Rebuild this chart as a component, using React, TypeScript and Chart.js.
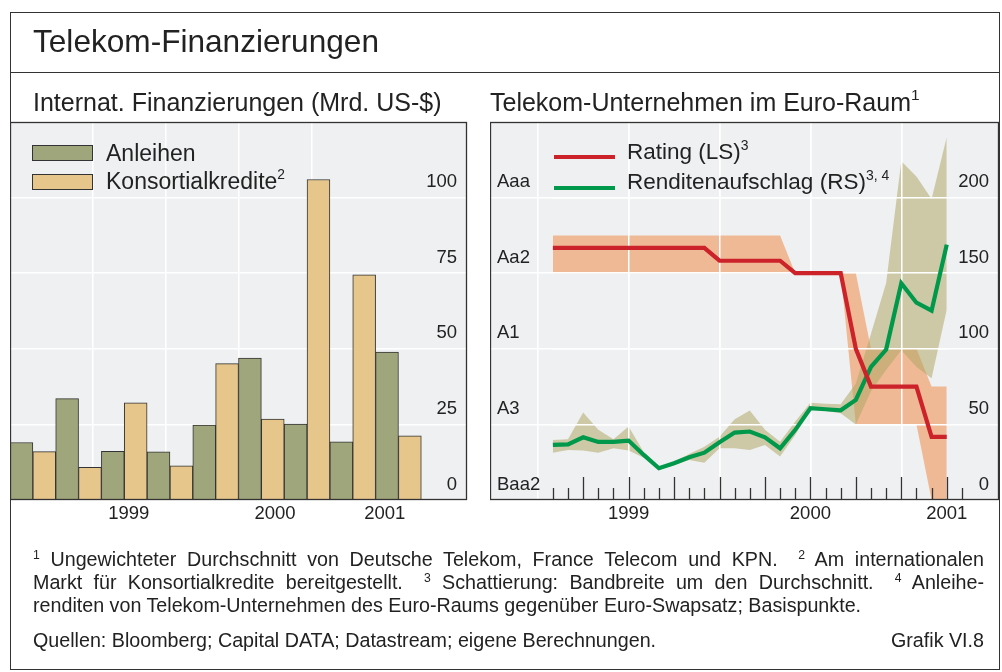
import React, { useEffect, useRef } from 'react';
import { Chart, registerables } from 'chart.js';

Chart.register(...registerables);

const FONT = '"Liberation Sans", Arial, Helvetica, sans-serif';
const TEXT = '#222222';
const PLOT_BG = '#EFF0F2';
const FRAME = '#333333';

// ---------- Left chart: Internat. Finanzierungen (Mrd. US-$), quarterly ----------
const quarters = ['1998-Q3', '1998-Q4', '1999-Q1', '1999-Q2', '1999-Q3', '1999-Q4', '2000-Q1', '2000-Q2', '2000-Q3', '2000-Q4'];
const anleihen = [19.0, 33.5, 16.1, 15.9, 24.8, 46.9, 25.1, 19.2, 48.9, null];
const konsortialkredite = [16.0, 10.8, 32.1, 11.3, 45.1, 26.8, 106.0, 74.5, 21.2, null];
const leftValueTicks = [0, 25, 50, 75, 100, 125];
const leftValueLabels = ['0', '25', '50', '75', '100', ''];
const leftGridMonths = ['1999-01', '1999-07', '2000-01', '2000-07'];

// ---------- Right chart: Telekom-Unternehmen im Euro-Raum, monthly ----------
const months = [
  '1998-08', '1998-09', '1998-10', '1998-11', '1998-12',
  '1999-01', '1999-02', '1999-03', '1999-04', '1999-05', '1999-06',
  '1999-07', '1999-08', '1999-09', '1999-10', '1999-11', '1999-12',
  '2000-01', '2000-02', '2000-03', '2000-04', '2000-05', '2000-06',
  '2000-07', '2000-08', '2000-09', '2000-10',
];
// Rating in notches (Aaa = 1, Aa1 = 2, Aa2 = 3, Aa3 = 4, A1 = 5, A2 = 6, A3 = 7, Baa1 = 8, Baa2 = 9)
const ratingAvg = [
  2.33, 2.33, 2.33, 2.33, 2.33,
  2.33, 2.33, 2.33, 2.33, 2.33, 2.33,
  2.67, 2.67, 2.67, 2.67, 2.67, 3.0,
  3.0, 3.0, 3.0, 5.0, 6.0, 6.0,
  6.0, 6.0, 7.33, 7.33,
];
const ratingBest = [
  2, 2, 2, 2, 2,
  2, 2, 2, 2, 2, 2,
  2, 2, 2, 2, 2, 3,
  3, 3, 3, 3, 5, 5,
  5, 5, 6, 6,
];
const ratingWorst = [
  3, 3, 3, 3, 3,
  3, 3, 3, 3, 3, 3,
  3, 3, 3, 3, 3, 3,
  3, 3, 3, 7, 7, 7,
  7, 7, 9, 9,
];
// Renditenaufschlag in Basispunkten
const spreadAvg = [
  36.4, 36.8, 41.5, 38.4, 38.4,
  39.3, 29.8, 21.0, 24.3, 28.3, 31.3,
  38.2, 44.6, 45.3, 41.5, 34.2, 46.4,
  60.7, 60.0, 59.3, 66.2, 88.0, 99.5,
  143.3, 130.5, 125.2, 168.9,
];
const spreadHigh = [
  39.7, 40.1, 57.8, 46.4, 40.1,
  48.6, 31.5, 22.0, 25.5, 30.5, 35.3,
  41.9, 53.4, 59.2, 46.4, 38.6, 51.9,
  64.4, 63.6, 63.3, 77.0, 110.0, 143.5,
  224.0, 214.0, 199.0, 240.0,
];
const spreadLow = [
  31.3, 33.1, 32.7, 31.3, 34.2,
  32.7, 28.0, 20.0, 23.0, 26.5, 24.7,
  34.2, 34.2, 33.1, 36.4, 28.7, 43.0,
  59.6, 58.9, 57.4, 50.0, 72.0, 86.0,
  99.0, 88.0, 80.6, 126.0,
];
const ratingTicks = [1, 3, 5, 7, 9];
const ratingLabels = ['Aaa', 'Aa2', 'A1', 'A3', 'Baa2'];
const spreadTicks = [0, 50, 100, 150, 200, 250];
const spreadLabels = ['0', '50', '100', '150', '200', ''];
const rightGridMonths = ['1998-07', '1999-01', '1999-07', '2000-01', '2000-07'];
const yearLabelMonths = ['1999-01', '2000-01', '2000-10'];
const yearLabels = ['1999', '2000', '2001'];

const parseMonth = (s: string) => {
  const [y, m] = s.split('-').map(Number);
  return (y - 1998) * 12 + (m - 1);
};

const points = (vals: number[]) => vals.map((v, i) => ({ x: parseMonth(months[i]), y: v }));

const plotBackground = {
  id: 'plotBackground',
  beforeDraw(chart: any) {
    const { ctx, chartArea: a } = chart;
    ctx.save();
    ctx.fillStyle = PLOT_BG;
    ctx.fillRect(a.left, a.top, a.right - a.left, a.bottom - a.top);
    ctx.restore();
  },
};

const plotFrame = {
  id: 'plotFrame',
  afterDraw(chart: any) {
    const { ctx, chartArea: a } = chart;
    ctx.save();
    ctx.strokeStyle = FRAME;
    ctx.lineWidth = 1.3;
    ctx.strokeRect(a.left + 0.5, a.top + 0.5, a.right - a.left - 1, a.bottom - a.top - 1);
    ctx.restore();
  },
};

const xLabelMap: Record<number, string> = {};
yearLabelMonths.forEach((m, i) => { xLabelMap[parseMonth(m)] = yearLabels[i]; });

function monthAxis(min: number, max: number, gridMonths: string[]) {
  const gridSet = new Set(gridMonths.map(parseMonth));
  const tickVals = Array.from(new Set([...gridMonths, ...yearLabelMonths].map(parseMonth))).sort((a, b) => a - b);
  return {
    type: 'linear',
    position: 'bottom',
    min,
    max,
    afterBuildTicks: (s: any) => { s.ticks = tickVals.map((v) => ({ value: v })); },
    afterFit: (s: any) => { s.height = 32; s.paddingLeft = 0; s.paddingRight = 0; },
    grid: {
      drawTicks: false,
      lineWidth: 1.5,
      color: (c: any) => (c.tick && gridSet.has(c.tick.value) ? '#ffffff' : 'rgba(0,0,0,0)'),
    },
    border: { display: false },
    ticks: {
      autoSkip: false,
      maxRotation: 0,
      padding: 3,
      color: TEXT,
      font: { size: 18.5, family: FONT },
      callback: (v: any) => xLabelMap[v] ?? '',
    },
  };
}

function LeftChart() {
  const ref = useRef<HTMLCanvasElement>(null);
  useEffect(() => {
    const labelMap: Record<number, string> = {};
    leftValueTicks.forEach((v, i) => { labelMap[v] = leftValueLabels[i]; });
    const chart = new Chart(ref.current as HTMLCanvasElement, {
      type: 'bar',
      data: {
        labels: quarters,
        datasets: [
          {
            label: 'Anleihen',
            data: anleihen as any,
            backgroundColor: '#A0A67B',
            borderColor: '#333333',
            borderWidth: 1,
            xAxisID: 'x',
            yAxisID: 'y',
            barPercentage: 1,
            categoryPercentage: 1,
          },
          {
            label: 'Konsortialkredite',
            data: konsortialkredite as any,
            backgroundColor: '#E6C68B',
            borderColor: '#333333',
            borderWidth: 1,
            xAxisID: 'x',
            yAxisID: 'y',
            barPercentage: 1,
            categoryPercentage: 1,
          },
        ],
      },
      options: {
        responsive: false,
        maintainAspectRatio: false,
        devicePixelRatio: 1,
        animation: false,
        events: [],
        layout: { padding: { left: 0, top: 1, right: 13, bottom: 0 } },
        plugins: { legend: { display: false }, tooltip: { enabled: false }, title: { display: false } },
        scales: {
          x: { type: 'category', display: false, offset: true },
          x2: monthAxis(6, 36, leftGridMonths) as any,
          y: {
            type: 'linear',
            position: 'right',
            min: 0,
            max: 125,
            afterBuildTicks: (s: any) => { s.ticks = leftValueTicks.map((v) => ({ value: v })); },
            afterFit: (s: any) => { s.width = 0; s.paddingTop = 0; s.paddingBottom = 0; },
            grid: { drawTicks: false, lineWidth: 1.5, color: '#ffffff' },
            border: { display: false },
            ticks: {
              mirror: true,
              padding: -10,
              labelOffset: -15.5,
              color: TEXT,
              font: { size: 18.5, family: FONT },
              callback: (v: any) => labelMap[v] ?? '',
            },
          },
        },
      } as any,
      plugins: [plotBackground, plotFrame],
    });
    return () => chart.destroy();
  }, []);
  return (
    <canvas
      ref={ref}
      width={470}
      height={411}
      style={{ position: 'absolute', left: 10, top: 121, width: 470, height: 411 }}
    />
  );
}

function RightChart() {
  const ref = useRef<HTMLCanvasElement>(null);
  useEffect(() => {
    const ratingMap: Record<number, string> = {};
    ratingTicks.forEach((v, i) => { ratingMap[v] = ratingLabels[i]; });
    const spreadMap: Record<number, string> = {};
    spreadTicks.forEach((v, i) => { spreadMap[v] = spreadLabels[i]; });
    const monthTickStart = parseMonth('1998-08');
    const monthTickEnd = parseMonth('2000-11');
    const firstMonth = parseMonth(months[0]);
    const lastMonth = parseMonth(months[months.length - 1]);

    const gridOverBands = {
      id: 'gridOverBands',
      beforeDatasetDraw(chart: any, args: any) {
        if (args.index === 4) {
          const { ctx, chartArea: a, scales } = chart;
          const x0 = scales.x.getPixelForValue(firstMonth);
          const x1 = scales.x.getPixelForValue(lastMonth);
          ctx.save();
          ctx.beginPath();
          ctx.rect(x0 - 1, a.top, x1 - x0 + 2, a.bottom - a.top);
          ctx.clip();
          scales.x.drawGrid(a);
          scales.yR.drawGrid(a);
          ctx.restore();
        }
      },
    };
    const innerTicks = {
      id: 'innerTicks',
      afterDatasetsDraw(chart: any) {
        const { ctx, chartArea: a, scales } = chart;
        ctx.save();
        ctx.strokeStyle = '#333333';
        ctx.lineWidth = 1.3;
        for (let m = monthTickStart; m <= monthTickEnd; m++) {
          const x = Math.round(scales.x.getPixelForValue(m)) + 0.5;
          const len = m % 3 === 0 ? 23 : 12;
          ctx.beginPath();
          ctx.moveTo(x, a.bottom);
          ctx.lineTo(x, a.bottom - len);
          ctx.stroke();
        }
        ctx.restore();
      },
    };

    const chart = new Chart(ref.current as HTMLCanvasElement, {
      type: 'line',
      data: {
        datasets: [
          {
            label: 'Rating Bandbreite oben',
            data: points(ratingBest),
            yAxisID: 'yL',
            xAxisID: 'x',
            borderWidth: 0,
            pointRadius: 0,
            fill: '+1',
            backgroundColor: '#F0B996',
            order: 4,
          },
          {
            label: 'Rating Bandbreite unten',
            data: points(ratingWorst),
            yAxisID: 'yL',
            xAxisID: 'x',
            borderWidth: 0,
            pointRadius: 0,
            fill: false,
            order: 5,
          },
          {
            label: 'Renditenaufschlag Bandbreite oben',
            data: points(spreadHigh),
            yAxisID: 'yR',
            xAxisID: 'x',
            borderWidth: 0,
            pointRadius: 0,
            fill: '+1',
            backgroundColor: 'rgba(177,167,102,0.55)',
            order: 2,
          },
          {
            label: 'Renditenaufschlag Bandbreite unten',
            data: points(spreadLow),
            yAxisID: 'yR',
            xAxisID: 'x',
            borderWidth: 0,
            pointRadius: 0,
            fill: false,
            order: 3,
          },
          {
            label: 'Renditenaufschlag (RS)',
            data: points(spreadAvg),
            yAxisID: 'yR',
            xAxisID: 'x',
            borderColor: '#00984A',
            borderWidth: 4.2,
            pointRadius: 0,
            fill: false,
            tension: 0,
            order: 1,
          },
          {
            label: 'Rating (LS)',
            data: points(ratingAvg),
            yAxisID: 'yL',
            xAxisID: 'x',
            borderColor: '#CC2229',
            borderWidth: 4.2,
            pointRadius: 0,
            fill: false,
            tension: 0,
            order: 0,
          },
        ],
      },
      options: {
        responsive: false,
        maintainAspectRatio: false,
        devicePixelRatio: 1,
        animation: false,
        events: [],
        layout: { padding: { left: 0, top: 1, right: 3, bottom: 0 } },
        plugins: {
          legend: { display: false },
          tooltip: { enabled: false },
          title: { display: false },
          filler: { propagate: false },
        },
        scales: {
          x: monthAxis(2.85, 36.45, rightGridMonths) as any,
          yL: {
            type: 'linear',
            position: 'left',
            reverse: true,
            min: -1,
            max: 9,
            afterBuildTicks: (s: any) => { s.ticks = ratingTicks.map((v) => ({ value: v })); },
            afterFit: (s: any) => { s.width = 0; s.paddingTop = 0; s.paddingBottom = 0; },
            grid: { display: false },
            border: { display: false },
            ticks: {
              mirror: true,
              padding: 7,
              labelOffset: -15.5,
              color: TEXT,
              font: { size: 18.5, family: FONT },
              callback: (v: any) => ratingMap[v] ?? '',
            },
          },
          yR: {
            type: 'linear',
            position: 'right',
            min: 0,
            max: 250,
            afterBuildTicks: (s: any) => { s.ticks = spreadTicks.map((v) => ({ value: v })); },
            afterFit: (s: any) => { s.width = 0; s.paddingTop = 0; s.paddingBottom = 0; },
            grid: { drawTicks: false, lineWidth: 1.5, color: '#ffffff' },
            border: { display: false },
            ticks: {
              mirror: true,
              padding: -10,
              labelOffset: -15.5,
              color: TEXT,
              font: { size: 18.5, family: FONT },
              callback: (v: any) => spreadMap[v] ?? '',
            },
          },
        },
      } as any,
      plugins: [plotBackground, gridOverBands, innerTicks, plotFrame],
    });
    return () => chart.destroy();
  }, []);
  return (
    <canvas
      ref={ref}
      width={512}
      height={411}
      style={{ position: 'absolute', left: 490, top: 121, width: 512, height: 411 }}
    />
  );
}

const abs = (left: number, top: number, size: number, extra: React.CSSProperties = {}): React.CSSProperties => ({
  position: 'absolute',
  left,
  top,
  fontSize: size,
  lineHeight: 1,
  fontFamily: FONT,
  color: TEXT,
  whiteSpace: 'nowrap',
  ...extra,
});

const Sup = ({ children, size = 0.6, raise = 0.5 }: { children: React.ReactNode; size?: number; raise?: number }) => (
  <span style={{ fontSize: `${size}em`, position: 'relative', top: `-${raise / size}em` }}>{children}</span>
);

const footLine = (top: number, justify: boolean): React.CSSProperties => ({
  position: 'absolute',
  left: 33,
  top,
  width: 951,
  fontSize: 19.7,
  lineHeight: 1,
  fontFamily: FONT,
  color: TEXT,
  textAlign: justify ? 'justify' : 'left',
  textAlignLast: justify ? 'justify' : 'left',
  whiteSpace: 'normal',
} as React.CSSProperties);

export default function App() {
  return (
    <div style={{ position: 'absolute', left: 0, top: 0, width: 1002, height: 672, background: '#ffffff', overflow: 'hidden' }}>
      <LeftChart />
      <RightChart />

      {/* frame and title separator */}
      <div style={{ position: 'absolute', left: 10, top: 12, width: 990, height: 658, border: `1.3px solid ${FRAME}`, boxSizing: 'border-box', pointerEvents: 'none' }} />
      <div style={{ position: 'absolute', left: 10, top: 71.5, width: 990, height: 1.3, background: FRAME }} />

      <div style={abs(33, 26.3, 31.6)}>Telekom-Finanzierungen</div>

      <div style={abs(33, 89.5, 25)}>Internat. Finanzierungen (Mrd. US-$)</div>
      <div style={abs(490, 89.5, 25)}>
        Telekom-Unternehmen im Euro-Raum<Sup size={0.62} raise={0.42}>1</Sup>
      </div>

      {/* left legend */}
      <div style={{ position: 'absolute', left: 32, top: 145, width: 61, height: 15.5, background: '#A0A67B', border: '1.2px solid #333', boxSizing: 'border-box' }} />
      <div style={abs(106, 141.5, 23)}>Anleihen</div>
      <div style={{ position: 'absolute', left: 32, top: 174, width: 61, height: 15.5, background: '#E6C68B', border: '1.2px solid #333', boxSizing: 'border-box' }} />
      <div style={abs(106, 170, 23)}>
        Konsortialkredite<Sup size={0.6} raise={0.42}>2</Sup>
      </div>

      {/* right legend */}
      <div style={{ position: 'absolute', left: 554, top: 154.8, width: 61, height: 4.5, background: '#CC2229' }} />
      <div style={abs(627, 141, 22.5)}>
        Rating (LS)<Sup size={0.62} raise={0.42}>3</Sup>
      </div>
      <div style={{ position: 'absolute', left: 554, top: 185.8, width: 61, height: 4.5, background: '#00984A' }} />
      <div style={abs(627, 171, 22.5)}>
        Renditenaufschlag (RS)<Sup size={0.62} raise={0.42}>3, 4</Sup>
      </div>

      {/* footnotes */}
      <div style={footLine(550.3, true)}>
        <Sup size={0.62} raise={0.38}>1</Sup> Ungewichteter Durchschnitt von Deutsche Telekom, France Telecom und KPN.{'\u2002'} <Sup size={0.62} raise={0.38}>2</Sup> Am internationalen
      </div>
      <div style={footLine(573.3, true)}>
        Markt für Konsortialkredite bereitgestellt.{'\u2002'} <Sup size={0.62} raise={0.38}>3</Sup> Schattierung: Bandbreite um den Durchschnitt.{'\u2002'} <Sup size={0.62} raise={0.38}>4</Sup> Anleihe-
      </div>
      <div style={footLine(596.3, false)}>
        renditen von Telekom-Unternehmen des Euro-Raums gegenüber Euro-Swapsatz; Basispunkte.
      </div>
      <div style={abs(33, 631.3, 19.7)}>Quellen: Bloomberg; Capital DATA; Datastream; eigene Berechnungen.</div>
      <div style={abs(878, 631.3, 19.7, { width: 106, textAlign: 'right' })}>Grafik VI.8</div>
    </div>
  );
}
